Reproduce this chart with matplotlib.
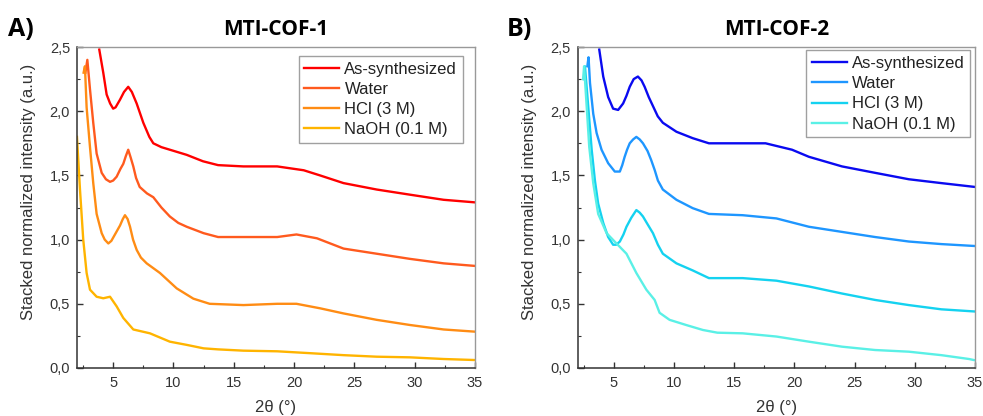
import matplotlib
matplotlib.use('Agg')
import matplotlib.pyplot as plt
from matplotlib.ticker import MultipleLocator, FuncFormatter

# ---- data (2theta in degrees, stacked normalized intensity) ----
labels = ['As-synthesized', 'Water', 'HCl (3 M)', 'NaOH (0.1 M)']

# MTI-COF-1
cof1_assyn_x = [3.85, 4.18, 4.46, 4.75, 5.0, 5.2, 5.57, 5.9, 6.25, 6.55, 6.95, 7.5, 8.0, 8.33, 9.0,
                9.7, 11.1, 12.45, 13.7, 15.8, 18.6, 20.8, 22.15, 24.1, 26.85, 29.6, 32.4, 35.0]
cof1_assyn_y = [2.48, 2.30, 2.13, 2.06, 2.02, 2.03, 2.09, 2.15, 2.19, 2.15, 2.06, 1.91, 1.80, 1.75, 1.72,
                1.70, 1.66, 1.61, 1.58, 1.57, 1.57, 1.54, 1.50, 1.44, 1.39, 1.35, 1.31, 1.29]
cof1_water_x = [2.7, 2.86, 3.08, 3.35, 3.63, 4.05, 4.4, 4.74, 5.0, 5.29, 5.6, 5.84, 6.05, 6.25, 6.45,
                6.67, 6.9, 7.2, 7.8, 8.33, 9.0, 9.7, 10.4, 11.1, 12.5, 13.7, 15.8, 18.6, 20.2, 21.9,
                24.1, 26.85, 29.6, 32.4, 35.0]
cof1_water_y = [2.30, 2.40, 2.17, 1.91, 1.67, 1.52, 1.47, 1.45, 1.46, 1.49, 1.55, 1.59, 1.65, 1.70, 1.64,
                1.57, 1.48, 1.41, 1.36, 1.33, 1.25, 1.18, 1.13, 1.10, 1.05, 1.02, 1.02, 1.02, 1.04, 1.01,
                0.93, 0.89, 0.85, 0.815, 0.795]
cof1_hcl_x = [2.55, 2.66, 2.8, 3.08, 3.35, 3.63, 4.05, 4.3, 4.6, 4.85, 5.15, 5.57, 5.8, 5.98, 6.2,
              6.4, 6.65, 6.95, 7.3, 7.78, 8.88, 10.27, 11.65, 13.0, 15.8, 18.6, 20.2, 22.15, 24.1,
              26.85, 29.6, 32.4, 35.0]
cof1_hcl_y = [2.30, 2.35, 2.03, 1.72, 1.44, 1.20, 1.05, 1.00, 0.97, 0.99, 1.04, 1.11, 1.16, 1.19, 1.16,
              1.10, 1.00, 0.92, 0.86, 0.815, 0.74, 0.62, 0.54, 0.50, 0.49, 0.50, 0.50, 0.465, 0.425,
              0.375, 0.335, 0.30, 0.283]
cof1_naoh_x = [2.0, 2.25, 2.52, 2.8, 3.08, 3.63, 4.18, 4.74, 5.29, 5.84, 6.67, 8.05, 9.7, 11.1, 12.5,
               13.7, 15.8, 18.6, 21.4, 24.1, 26.85, 29.6, 32.4, 35.0]
cof1_naoh_y = [1.80, 1.39, 1.00, 0.74, 0.61, 0.555, 0.543, 0.555, 0.48, 0.39, 0.30, 0.27, 0.205, 0.18, 0.153,
               0.145, 0.135, 0.13, 0.115, 0.10, 0.088, 0.083, 0.07, 0.062]

# MTI-COF-2
cof2_assyn_x = [3.79, 4.12, 4.53, 4.94, 5.36, 5.77, 6.05, 6.32, 6.65, 7.0, 7.3, 7.56, 7.9, 8.25, 8.65,
                9.07, 10.2, 11.55, 12.9, 15.7, 17.6, 19.8, 21.2, 23.95, 26.7, 29.5, 32.2, 35.0]
cof2_assyn_y = [2.48, 2.27, 2.11, 2.02, 2.01, 2.06, 2.12, 2.19, 2.25, 2.27, 2.24, 2.19, 2.11, 2.04, 1.96,
                1.91, 1.84, 1.79, 1.75, 1.75, 1.75, 1.70, 1.645, 1.57, 1.52, 1.47, 1.44, 1.41]
cof2_water_x = [2.8, 2.9, 3.02, 3.29, 3.57, 3.98, 4.53, 5.08, 5.5, 5.7, 5.9, 6.1, 6.32, 6.6, 6.87,
                7.15, 7.42, 7.8, 8.1, 8.4, 8.66, 9.07, 10.2, 11.55, 12.9, 15.7, 18.5, 21.2, 23.95,
                26.7, 29.5, 32.2, 35.0]
cof2_water_y = [2.35, 2.42, 2.22, 1.98, 1.83, 1.70, 1.595, 1.53, 1.53, 1.58, 1.645, 1.70, 1.75, 1.78, 1.80,
                1.78, 1.75, 1.69, 1.62, 1.54, 1.46, 1.39, 1.31, 1.245, 1.20, 1.19, 1.165, 1.10, 1.06,
                1.02, 0.985, 0.965, 0.95]
cof2_hcl_x = [2.5, 2.6, 2.88, 3.16, 3.43, 3.7, 4.12, 4.53, 4.94, 5.2, 5.5, 5.8, 6.05, 6.45, 6.87,
              7.15, 7.42, 7.8, 8.25, 8.66, 9.07, 10.2, 11.55, 12.9, 15.7, 18.5, 21.2, 23.95, 26.7,
              29.5, 32.2, 35.0]
cof2_hcl_y = [2.25, 2.35, 2.03, 1.70, 1.46, 1.28, 1.13, 1.02, 0.96, 0.96, 0.985, 1.04, 1.10, 1.17, 1.23,
              1.21, 1.18, 1.12, 1.05, 0.96, 0.89, 0.815, 0.76, 0.70, 0.70, 0.68, 0.635, 0.58, 0.53,
              0.49, 0.457, 0.44]
cof2_naoh_x = [2.45, 2.53, 2.75, 2.96, 3.29, 3.7, 4.4, 5.22, 6.05, 6.87, 7.7, 8.39, 8.8, 9.63, 11.0,
               12.4, 13.6, 15.7, 18.5, 21.2, 23.95, 26.7, 29.5, 32.2, 34.5, 35.0]
cof2_naoh_y = [2.25, 2.35, 2.03, 1.72, 1.44, 1.20, 1.05, 0.97, 0.89, 0.74, 0.61, 0.53, 0.43, 0.375, 0.335,
               0.296, 0.275, 0.27, 0.245, 0.205, 0.166, 0.14, 0.127, 0.10, 0.07, 0.06]

colors_1 = ['#ff0000', '#ff5a1e', '#ff8c14', '#ffb400']
colors_2 = ['#0a0af0', '#1e96ff', '#14d2f0', '#5af0e6']

plt.rcParams['font.family'] = ['Liberation Sans', 'DejaVu Sans']
bold_family = ['Open Sans', 'DejaVu Sans']

fig = plt.figure(figsize=(9.83, 4.16), dpi=100)
ax1 = fig.add_axes([0.0783, 0.1154, 0.4049, 0.7716])
ax2 = fig.add_axes([0.5877, 0.1154, 0.4042, 0.7716])

comma = FuncFormatter(lambda v, pos: f'{v:.1f}'.replace('.', ','))


def draw_panel(ax, series, colors, title, legend_box):
    for (xs, ys), c, lab in zip(series, colors, labels):
        ax.plot(xs, ys, color=c, lw=1.7, label=lab, solid_joinstyle='round')
    ax.set_xlim(2, 35)
    ax.set_ylim(0, 2.5)
    ax.xaxis.set_major_locator(MultipleLocator(5))
    ax.xaxis.set_minor_locator(MultipleLocator(2.5))
    ax.yaxis.set_major_locator(MultipleLocator(0.5))
    ax.yaxis.set_minor_locator(MultipleLocator(0.25))
    ax.yaxis.set_major_formatter(comma)
    ax.tick_params(which='both', direction='in', top=False, right=False,
                   labelsize=10.5, colors='#333333')
    ax.tick_params(which='major', length=4, width=1)
    ax.tick_params(which='minor', length=2.5, width=0.8)
    ax.tick_params(axis='y', pad=5)
    ax.tick_params(axis='x', pad=6)
    for s in ['left', 'bottom']:
        ax.spines[s].set_color('#333333')
        ax.spines[s].set_linewidth(1.1)
    for s in ['top', 'right']:
        ax.spines[s].set_color('#999999')
        ax.spines[s].set_linewidth(1.0)
    ax.set_xlabel('2θ (°)', fontsize=12, color='#333333', labelpad=7)
    ax.set_ylabel('Stacked normalized intensity (a.u.)', fontsize=12, color='#333333')
    ax.yaxis.set_label_coords(-0.103, 0.548)
    ax.set_title(title, fontsize=15, fontweight='bold', family=bold_family, pad=9)
    leg = ax.legend(loc='upper right', bbox_to_anchor=legend_box, fontsize=12, frameon=True,
                    fancybox=False, edgecolor='#888888', handlelength=2.1, handletextpad=0.3,
                    labelspacing=0.31, borderpad=0.35, borderaxespad=0)
    leg.get_frame().set_linewidth(1.0)
    for t in leg.get_texts():
        t.set_color('#222222')


draw_panel(ax1,
           [(cof1_assyn_x, cof1_assyn_y), (cof1_water_x, cof1_water_y),
            (cof1_hcl_x, cof1_hcl_y), (cof1_naoh_x, cof1_naoh_y)],
           colors_1, 'MTI-COF-1', (0.97, 0.972))
draw_panel(ax2,
           [(cof2_assyn_x, cof2_assyn_y), (cof2_water_x, cof2_water_y),
            (cof2_hcl_x, cof2_hcl_y), (cof2_naoh_x, cof2_naoh_y)],
           colors_2, 'MTI-COF-2', (0.988, 0.99))

fig.text(0.008, 0.93, 'A)', fontsize=18, fontweight='bold', family=bold_family, va='center')
fig.text(0.516, 0.93, 'B)', fontsize=18, fontweight='bold', family=bold_family, va='center')

fig.savefig('out.png', dpi=100)
